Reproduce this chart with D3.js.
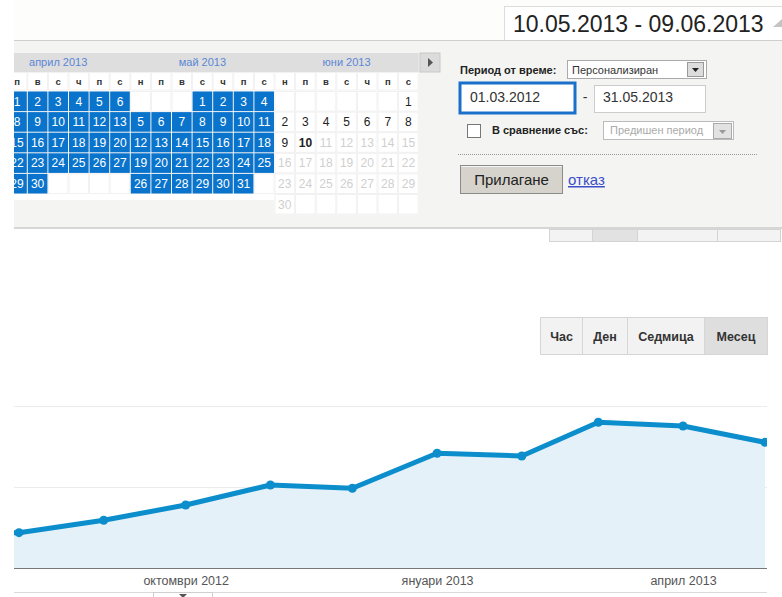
<!DOCTYPE html>
<html>
<head>
<meta charset="utf-8">
<script src="https://cdn.jsdelivr.net/npm/d3@7"></script>
<style>
  body { margin: 0; background: #fff; }
  svg { display: block; font-family: "Liberation Sans", Arial, sans-serif; }
</style>
</head>
<body>
<svg id="chart"></svg>
<script>
// Monthly visits, Google Analytics style, with the date-range picker open on top

const months = ["2012-07", "2012-08", "2012-09", "2012-10", "2012-11", "2012-12",
                "2013-01", "2013-02", "2013-03", "2013-04", "2013-05"];
const visits = [445, 436, 589, 778, 1025, 984, 1416, 1383, 1799, 1753, 1552];
const gridValues = [0, 1000, 2000];
const tickMonths = ["2012-10", "2013-01", "2013-04"];
const tickLabels = ["октомври 2012", "януари 2013", "април 2013"];

const calMonths = ["2013-04", "2013-05", "2013-06"];
const calTitles = ["април 2013", "май 2013", "юни 2013"];
const weekdays = ["н", "п", "в", "с", "ч", "п", "с"];
const rangeStart = "2012-03-01";
const rangeEnd = "2013-05-31";
const today = "2013-06-10";
const intervalButtons = ["Час", "Ден", "Седмица", "Месец"];
const activeInterval = "Месец";

const W = 782, H = 597;
const parseMonth = d3.timeParse("%Y-%m");
const parseDay = d3.timeParse("%Y-%m-%d");

const svg = d3.select("#chart").attr("width", W).attr("height", H);

// ---------- top strip + picker panel ----------
svg.append("rect").attr("x", 14).attr("y", 0).attr("width", W - 14).attr("height", 40).attr("fill", "#fdfdfc");

// current range box
svg.append("rect").attr("x", 504.5).attr("y", 6.5).attr("width", 300).attr("height", 34)
    .attr("fill", "#fff").attr("stroke", "#dcdcdc");
svg.append("text").attr("x", 513).attr("y", 32).attr("font-size", 23).attr("fill", "#222")
    .text("10.05.2013 - 09.06.2013");
svg.append("path").attr("d", "M773,27 L782,27 L782,19 Z").attr("fill", "#c4c4c4");

// panel
svg.append("rect").attr("x", 14).attr("y", 40).attr("width", W - 14).attr("height", 188).attr("fill", "#f4f5f2");
svg.append("line").attr("x1", 14).attr("x2", W).attr("y1", 40.5).attr("y2", 40.5).attr("stroke", "#cfcfcf");
svg.append("line").attr("x1", 14).attr("x2", W).attr("y1", 228).attr("y2", 228).attr("stroke", "#d6d6d6").attr("stroke-width", 2);

// hidden buttons peeking under the panel
const peek = [[549, 592, "#f3f3f3"], [592, 637, "#e2e2e2"], [637, 717, "#f3f3f3"], [717, 780, "#f3f3f3"]];
svg.selectAll(".peek").data(peek).join("rect")
    .attr("x", d => d[0] + 0.5).attr("y", 229.5).attr("width", d => d[1] - d[0]).attr("height", 12)
    .attr("fill", d => d[2]).attr("stroke", "#d4d4d4");

// ---------- calendar ----------
const cal = svg.append("g");
svg.append("clipPath").attr("id", "calClip").append("rect")
    .attr("x", 14).attr("y", 40).attr("width", 430).attr("height", 190);
cal.attr("clip-path", "url(#calClip)");

const cw = 20.6, rh = 20.6;
const calLeft = -13.9;
const headTop = 53, dowTop = 72, rowTop = 91;
const start = parseDay(rangeStart), end = parseDay(rangeEnd), now = parseDay(today);

cal.append("rect").attr("x", 14).attr("y", headTop).attr("width", calLeft + 21 * cw - 14).attr("height", dowTop - headTop)
    .attr("fill", "#dedede");

calMonths.forEach((m, i) => {
    const first = parseMonth(m);
    const days = d3.timeDays(first, d3.timeMonth.offset(first, 1));
    const nRows = d3.timeWeek.count(first, days[days.length - 1]) + 1;
    const x0 = calLeft + i * 7 * cw;
    const g = cal.append("g");

    g.append("text").attr("x", x0 + 3.5 * cw).attr("y", 66).attr("text-anchor", "middle")
        .attr("font-size", 11).attr("fill", "#5b86d6").text(calTitles[i]);

    const tableBottom = Math.max(200, rowTop + nRows * rh);
    g.append("rect").attr("x", x0).attr("y", dowTop).attr("width", 7 * cw).attr("height", tableBottom - dowTop)
        .attr("fill", "#fff");

    g.selectAll(".dow").data(weekdays).join("text")
        .attr("x", (d, j) => x0 + (j + 0.5) * cw).attr("y", 85).attr("text-anchor", "middle")
        .attr("font-size", 9.5).attr("font-weight", "bold").attr("fill", "#333").text(d => d);

    // empty grid
    const slots = d3.range(nRows * 7);
    g.selectAll(".slot").data(slots).join("rect")
        .attr("x", j => x0 + (j % 7) * cw + 0.5).attr("y", j => rowTop + Math.floor(j / 7) * rh + 0.5)
        .attr("width", cw - 1).attr("height", rh - 1)
        .attr("fill", "#fff").attr("stroke", "#f1f1f1");
    g.selectAll(".dowcell").data(weekdays).join("rect")
        .attr("x", (d, j) => x0 + j * cw + 0.5).attr("y", dowTop + 0.5)
        .attr("width", cw - 1).attr("height", rowTop - dowTop - 1.5)
        .attr("fill", "none").attr("stroke", "#f1f1f1");

    const cells = g.selectAll(".day").data(days).join("g")
        .attr("transform", d => `translate(${x0 + d.getDay() * cw},${rowTop + d3.timeWeek.count(first, d) * rh})`);
    cells.filter(d => d >= start && d <= end).append("rect")
        .attr("x", 0.5).attr("y", 0.5).attr("width", cw - 1).attr("height", rh - 1).attr("fill", "#0a74cc");
    cells.append("text").attr("x", cw / 2).attr("y", 14.5).attr("text-anchor", "middle")
        .attr("font-size", 12)
        .attr("font-weight", d => +d === +now ? "bold" : null)
        .attr("fill", d => (d >= start && d <= end) ? "#fff" : (d > now ? "#cfcfcf" : "#222"))
        .text(d => d.getDate());
});

// next-month arrow
cal.append("rect").attr("x", 420).attr("y", headTop).attr("width", 20).attr("height", dowTop - headTop)
    .attr("fill", "#dcdcdc").attr("stroke", "#c8c8c8");
cal.append("path").attr("d", "M428,58 L428,67 L433,62.5 Z").attr("fill", "#555");

// ---------- right side of picker ----------
const rp = svg.append("g").attr("font-size", 11);
rp.append("text").attr("x", 460).attr("y", 74).attr("font-weight", "bold").attr("fill", "#222").text("Период от време:");
rp.append("rect").attr("x", 567.5).attr("y", 60.5).attr("width", 139).attr("height", 18).attr("fill", "#fff").attr("stroke", "#aaa");
rp.append("text").attr("x", 572).attr("y", 73.5).attr("fill", "#333").text("Персонализиран");
rp.append("rect").attr("x", 687.5).attr("y", 62.5).attr("width", 16).attr("height", 14).attr("fill", "#dcdcdc").attr("stroke", "#999");
rp.append("path").attr("d", "M692,68 L699,68 L695.5,72 Z").attr("fill", "#222");

rp.append("rect").attr("x", 460).attr("y", 83).attr("width", 115).attr("height", 30)
    .attr("fill", "#fff").attr("stroke", "#1a6fc9").attr("stroke-width", 3);
rp.append("text").attr("x", 470).attr("y", 102).attr("font-size", 14).attr("fill", "#333").text("01.03.2012");
rp.append("text").attr("x", 585).attr("y", 102).attr("font-size", 14).attr("text-anchor", "middle").attr("fill", "#333").text("-");
rp.append("rect").attr("x", 594.5).attr("y", 85.5).attr("width", 111).attr("height", 27).attr("fill", "#fff").attr("stroke", "#ccc");
rp.append("text").attr("x", 603).attr("y", 102).attr("font-size", 14).attr("fill", "#333").text("31.05.2013");

rp.append("rect").attr("x", 467.5).attr("y", 124.5).attr("width", 13).attr("height", 13).attr("fill", "#fff").attr("stroke", "#777");
rp.append("text").attr("x", 492).attr("y", 134).attr("font-weight", "bold").attr("fill", "#222").text("В сравнение със:");
rp.append("rect").attr("x", 603.5).attr("y", 121.5).attr("width", 130).attr("height", 18).attr("fill", "#fff").attr("stroke", "#bbb");
rp.append("text").attr("x", 610).attr("y", 134).attr("fill", "#aaa").text("Предишен период");
rp.append("rect").attr("x", 713.5).attr("y", 123.5).attr("width", 18).attr("height", 15).attr("fill", "#e2e2e2").attr("stroke", "#aaa");
rp.append("path").attr("d", "M719,130 L726,130 L722.5,134 Z").attr("fill", "#999");

rp.append("line").attr("x1", 458).attr("x2", 758).attr("y1", 154.5).attr("y2", 154.5)
    .attr("stroke", "#999").attr("stroke-dasharray", "1,1");

rp.append("rect").attr("x", 460.5).attr("y", 165.5).attr("width", 102).attr("height", 28)
    .attr("fill", "#d6d3cc").attr("stroke", "#8a8a8a");
rp.append("line").attr("x1", 461).attr("x2", 562).attr("y1", 166.5).attr("y2", 166.5).attr("stroke", "#f4f4f4");
rp.append("text").attr("x", 511.5).attr("y", 185).attr("text-anchor", "middle").attr("font-size", 15).attr("fill", "#222").text("Прилагане");
rp.append("text").attr("x", 568).attr("y", 185).attr("font-size", 15).attr("fill", "#3b4fc8")
    .attr("text-decoration", "underline").text("отказ");

// ---------- interval buttons ----------
const btnEdges = [540, 582, 627, 704, 767];
const btn = svg.append("g").selectAll("g").data(intervalButtons).join("g");
btn.append("rect")
    .attr("x", (d, i) => btnEdges[i] + 0.5).attr("y", 317.5)
    .attr("width", (d, i) => btnEdges[i + 1] - btnEdges[i]).attr("height", 37)
    .attr("fill", d => d === activeInterval ? "#dedede" : "#f2f2f2").attr("stroke", "#d6d6d6");
btn.append("text")
    .attr("x", (d, i) => (btnEdges[i] + btnEdges[i + 1]) / 2 + 0.5).attr("y", 340.5)
    .attr("text-anchor", "middle").attr("font-size", 12.5).attr("font-weight", "bold").attr("fill", "#333")
    .text(d => d);

// ---------- line chart ----------
const data = months.map((m, i) => ({ date: parseMonth(m), value: visits[i] }));
const plot = { left: 14, right: 767, top: 380, bottom: 568 };

const xScale = d3.scaleTime()
    .domain([parseMonth("2012-08"), parseMonth("2013-05")])
    .range([19, 765]);
const yScale = d3.scaleLinear().domain([0, 2000]).range([568, 406]);

svg.append("clipPath").attr("id", "plotClip").append("rect")
    .attr("x", plot.left).attr("y", plot.top).attr("width", plot.right - plot.left).attr("height", plot.bottom - plot.top + 2);

svg.append("g").selectAll("line").data(gridValues.slice(1)).join("line")
    .attr("x1", plot.left).attr("x2", plot.right)
    .attr("y1", d => Math.round(yScale(d)) + 0.5).attr("y2", d => Math.round(yScale(d)) + 0.5)
    .attr("stroke", "#ececec");

const pg = svg.append("g").attr("clip-path", "url(#plotClip)");

const area = d3.area().x(d => xScale(d.date)).y0(yScale(0)).y1(d => yScale(d.value));
const line = d3.line().x(d => xScale(d.date)).y(d => yScale(d.value));

pg.append("path").datum(data).attr("d", area).attr("fill", "#e5f1f9");
pg.append("path").datum(data).attr("d", line)
    .attr("fill", "none").attr("stroke", "#0b8ecb").attr("stroke-width", 5).attr("stroke-linejoin", "round");
pg.selectAll("circle").data(data).join("circle")
    .attr("cx", d => xScale(d.date)).attr("cy", d => yScale(d.value)).attr("r", 4.5)
    .attr("fill", "#0b8ecb");

svg.append("line").attr("x1", plot.left).attr("x2", plot.right)
    .attr("y1", yScale(0) + 0.5).attr("y2", yScale(0) + 0.5).attr("stroke", "#777");

const xAxis = d3.axisBottom(xScale)
    .tickValues(tickMonths.map(parseMonth))
    .tickFormat((d, i) => tickLabels[i])
    .tickSize(0).tickPadding(0);
const xg = svg.append("g").attr("transform", `translate(0, ${yScale(0)})`).call(xAxis);
xg.select(".domain").remove();
xg.selectAll("text").attr("y", 16.5).attr("dy", null)
    .attr("font-family", "Liberation Sans, Arial, sans-serif").attr("font-size", 12.5).attr("fill", "#555");

// footer rule + resize handle
svg.append("line").attr("x1", plot.left).attr("x2", plot.right).attr("y1", 592.5).attr("y2", 592.5).attr("stroke", "#dadada");
svg.append("rect").attr("x", 153.5).attr("y", 592.5).attr("width", 59).attr("height", 10).attr("fill", "#fff").attr("stroke", "#cfcfcf");
svg.append("path").attr("d", "M179,594 L187,594 L183,598 Z").attr("fill", "#555");
</script>
</body>
</html>
